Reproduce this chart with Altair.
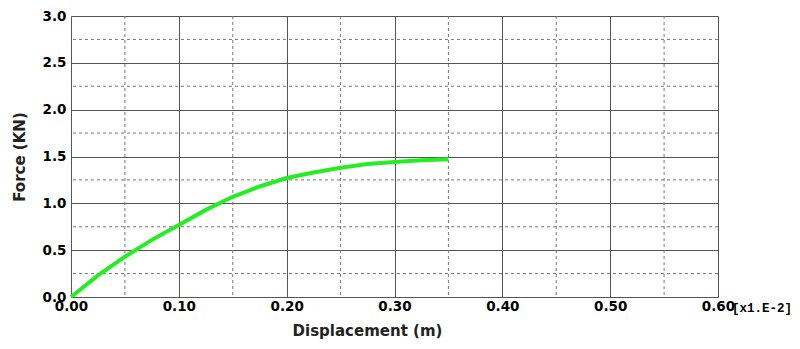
import altair as alt
import pandas as pd

# Data
disp = [0.0, 0.025, 0.05, 0.075, 0.10, 0.125, 0.15, 0.175, 0.20, 0.225, 0.25, 0.275, 0.30, 0.325, 0.35]
force = [0.0, 0.23, 0.43, 0.61, 0.77, 0.93, 1.07, 1.18, 1.27, 1.33, 1.38, 1.42, 1.44, 1.46, 1.47]

x_major = [0.0, 0.1, 0.2, 0.3, 0.4, 0.5, 0.6]
y_major = [0.0, 0.5, 1.0, 1.5, 2.0, 2.5, 3.0]
x_minor = [0.05, 0.15, 0.25, 0.35, 0.45, 0.55]
y_minor = [0.25, 0.75, 1.25, 1.75, 2.25, 2.75]

df = pd.DataFrame({"x": disp, "y": force})
xs = alt.Scale(domain=[0, 0.6], nice=False, zero=False)
ys = alt.Scale(domain=[0, 3.0], nice=False, zero=False)

FONT = "DejaVu Sans"

vminor = alt.Chart(pd.DataFrame({"x": x_minor})).mark_rule(
    color="#777", strokeDash=[3, 3], strokeWidth=1
).encode(x=alt.X("x:Q", scale=xs))
hminor = alt.Chart(pd.DataFrame({"y": y_minor})).mark_rule(
    color="#777", strokeDash=[3, 3], strokeWidth=1
).encode(y=alt.Y("y:Q", scale=ys))

line = alt.Chart(df).mark_line(color="#22EE22", strokeWidth=4).encode(
    x=alt.X("x:Q", scale=xs,
            axis=alt.Axis(values=x_major, format=".2f", title="Displacement (m)",
                          grid=True, gridColor="#555", gridWidth=1, ticks=False,
                          domain=False, labelFont=FONT, labelFontWeight="bold",
                          labelFontSize=13.5, labelColor="black", labelPadding=2,
                          labelFlush=False, labelOverlap=False,
                          titleFont=FONT, titleFontWeight="bold", titleFontSize=15,
                          titleColor="#222", titlePadding=11, titleX=296)),
    y=alt.Y("y:Q", scale=ys,
            axis=alt.Axis(values=y_major, format=".1f", title="Force (KN)",
                          grid=True, gridColor="#555", gridWidth=1, ticks=False,
                          domain=False, labelFont=FONT, labelFontWeight="bold",
                          labelFontSize=13.5, labelColor="black", labelPadding=5,
                          labelFlush=False, labelOverlap=False,
                          titleFont=FONT, titleFontWeight="bold", titleFontSize=15,
                          titleColor="#222", titlePadding=15)),
)

note = alt.Chart(pd.DataFrame({"x": [0.6], "y": [0.0], "t": ["[x1.E-2]"]})).mark_text(
    font="Liberation Mono", fontWeight="bold", fontSize=12.5, align="left",
    baseline="top", dx=14, dy=5, color="black"
).encode(x=alt.X("x:Q", scale=xs), y=alt.Y("y:Q", scale=ys), text="t:N")

chart = alt.layer(vminor, hminor, line, note).properties(
    width=647, height=281,
    autosize=alt.AutoSizeParams(type="none"),
    padding={"left": 63, "top": 8, "right": 74, "bottom": 44},
).configure_view(stroke="#333", strokeWidth=1.5).configure(background="white")

chart.save("out.html", embed_options={"renderer": "svg", "actions": False})
